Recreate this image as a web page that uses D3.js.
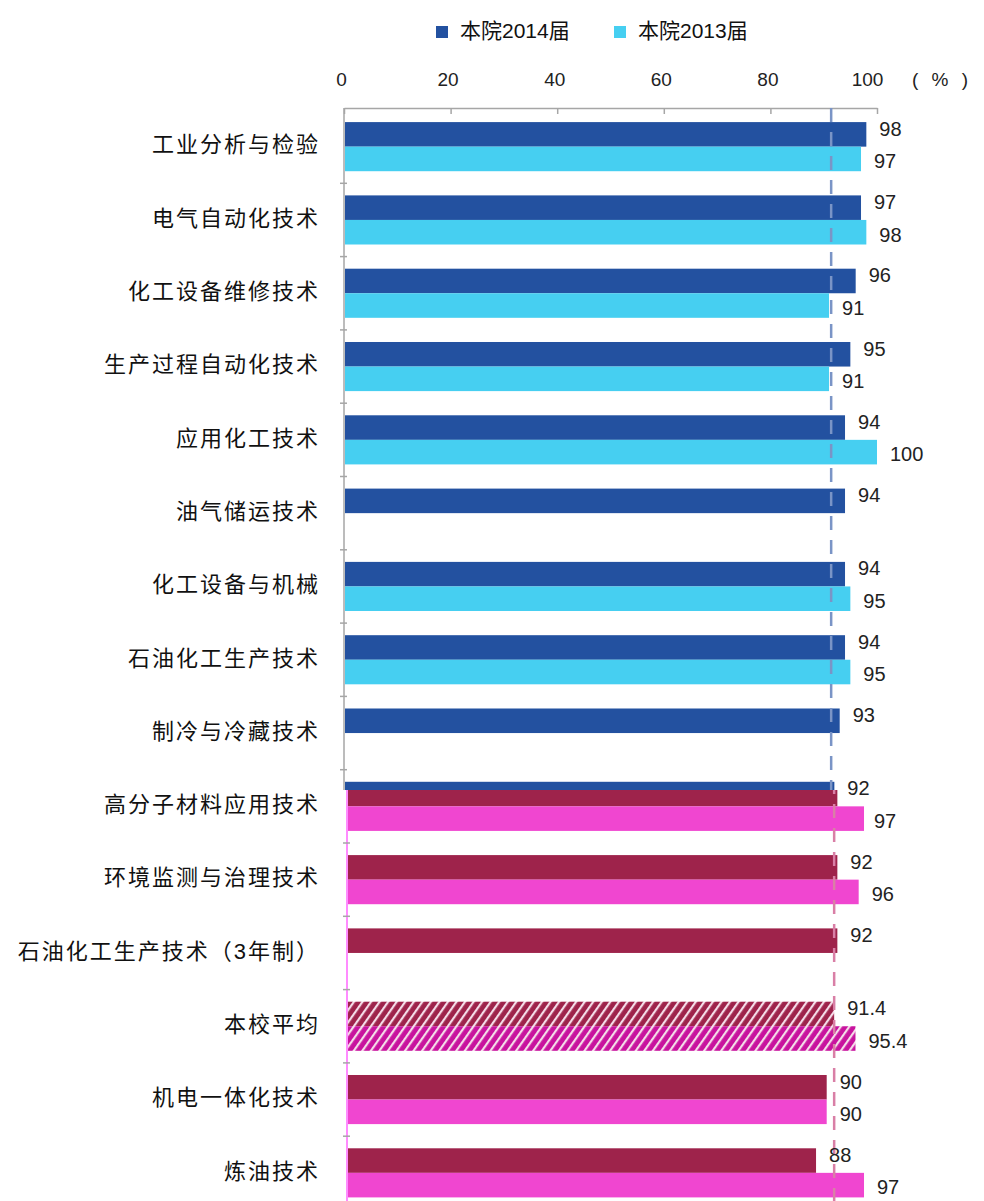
<!DOCTYPE html>
<html>
<head>
<meta charset="utf-8">
<script src="https://cdn.jsdelivr.net/npm/d3@7"></script>
<style>
  body { margin: 0; background: #fff; }
  text { font-family: "Liberation Sans", "Noto Sans CJK SC", sans-serif; }
</style>
</head>
<body>
<div id="chart"></div>
<script>
const categories = ["工业分析与检验", "电气自动化技术", "化工设备维修技术", "生产过程自动化技术",
  "应用化工技术", "油气储运技术", "化工设备与机械", "石油化工生产技术", "制冷与冷藏技术",
  "高分子材料应用技术", "环境监测与治理技术", "石油化工生产技术（3年制）", "本校平均",
  "机电一体化技术", "炼油技术"];
const values2014 = [98, 97, 96, 95, 94, 94, 94, 94, 93, 92, 92, 92, 91.4, 90, 88];
const values2013 = [97, 98, 91, 91, 100, null, 95, 95, null, 97, 96, null, 95.4, 90, 97];
const seriesNames = ["本院2014届", "本院2013届"];
const tickValues = [0, 20, 40, 60, 80, 100];
const averageValue = 91.4;
const averageName = "本校平均";

const width = 984, height = 1201;
const splitY = 790; // lower part of the picture uses a different palette

const svg = d3.select("#chart")
  .append("svg")
  .attr("width", width)
  .attr("height", height);

const x = d3.scaleLinear().domain([0, 100]).range([344, 877]);
const y = d3.scaleBand()
  .domain(categories)
  .range([110, 110 + 15 * 73.3])
  .paddingInner(0.33)
  .paddingOuter(0.165);
const ySub = d3.scaleBand().domain([0, 1]).range([0, y.bandwidth()]);

const rows = categories.map((c, i) => ({ cat: c, v: [values2014[i], values2013[i]] }));
const bars = [];
rows.forEach(r => r.v.forEach((v, s) => { if (v != null) bars.push({ cat: r.cat, s: s, v: v }); }));

const palettes = [
  { name: "top", c: ["#2351A0", "#46CFF1"], dash: "#7A94C6", axis: "#A6A6A6", clip: [0, splitY], dx: 0 },
  { name: "bot", c: ["#9E234B", "#F046D0"], dash: "#D97FA6", axis: "#FF66FF", clip: [splitY, height], dx: 3 }
];

const defs = svg.append("defs");
palettes.forEach(p => {
  defs.append("clipPath").attr("id", "clip-" + p.name)
    .append("rect").attr("x", -10).attr("y", p.clip[0]).attr("width", width + 20).attr("height", p.clip[1] - p.clip[0]);
  p.c.forEach((col, s) => {
    const pat = defs.append("pattern")
      .attr("id", `hatch-${p.name}-${s}`)
      .attr("patternUnits", "userSpaceOnUse")
      .attr("width", 7).attr("height", 7)
      .attr("patternTransform", "rotate(35)");
    pat.append("rect").attr("width", 7).attr("height", 7).attr("fill", s === 0 ? col : (p.name === "bot" ? "#C8139E" : col));
    pat.append("rect").attr("x", 0).attr("width", 2.2).attr("height", 7).attr("fill", "#f4dce8");
  });
});

// x axis on top
const xAxis = svg.append("g")
  .attr("transform", "translate(0,108)")
  .call(d3.axisTop(x).tickValues(tickValues).tickSizeInner(-6).tickSizeOuter(0));
xAxis.select(".domain").attr("stroke", "#A6A6A6").attr("stroke-width", 1.5);
xAxis.selectAll(".tick line").attr("stroke", "#A6A6A6").attr("stroke-width", 1.5);
xAxis.selectAll(".tick text")
  .attr("y", -22)
  .attr("dx", d => d === 100 ? -10 : -3)
  .style("font-size", "19px")
  .attr("fill", "#222");
svg.append("text")
  .attr("x", 912).attr("y", 86)
  .style("font-size", "19px")
  .style("letter-spacing", "4px")
  .attr("fill", "#222")
  .text("( % )");

// bars, average line and y axis, in two colour layers
palettes.forEach(p => {
  const g = svg.append("g").attr("clip-path", `url(#clip-${p.name})`)
    .append("g").attr("transform", `translate(${p.dx},0)`);

  g.append("line")
    .attr("x1", x(0)).attr("x2", x(0))
    .attr("y1", 108).attr("y2", height)
    .attr("stroke", p.axis).attr("stroke-width", 1.5);

  g.append("g")
    .selectAll("line")
    .data(categories.slice(1))
    .join("line")
    .attr("x1", x(0) - 4).attr("x2", x(0) + 3)
    .attr("y1", d => y(d) - y.step() * y.paddingInner() / 2)
    .attr("y2", d => y(d) - y.step() * y.paddingInner() / 2)
    .attr("stroke", "#A6A6A6").attr("stroke-width", 1.5);

  g.append("g")
    .selectAll("rect")
    .data(bars)
    .join("rect")
    .attr("x", x(0) + 1)
    .attr("y", d => y(d.cat) + ySub(d.s))
    .attr("width", d => x(d.v) - x(0) - 1)
    .attr("height", ySub.bandwidth())
    .attr("fill", d => d.cat === averageName ? `url(#hatch-${p.name}-${d.s})` : p.c[d.s]);

  g.append("line")
    .attr("x1", x(averageValue)).attr("x2", x(averageValue))
    .attr("y1", 108).attr("y2", height)
    .attr("stroke", p.dash).attr("stroke-width", 2.5)
    .attr("stroke-dasharray", "14,10");
});

// category labels
svg.append("g")
  .selectAll("text")
  .data(categories)
  .join("text")
  .attr("x", 320)
  .attr("y", d => y(d) + y.bandwidth() / 2)
  .attr("text-anchor", "end")
  .attr("dominant-baseline", "middle")
  .style("font-size", "22px")
  .style("letter-spacing", "2px")
  .attr("fill", "#111")
  .text(d => d);

// value labels
svg.append("g")
  .selectAll("text")
  .data(bars)
  .join("text")
  .attr("x", d => x(d.v) + 13 + (y(d.cat) > splitY ? 3 : 0))
  .attr("y", d => y(d.cat) + ySub(d.s) + ySub.bandwidth() / 2 + (d.s === 0 ? -4 : 4))
  .attr("dominant-baseline", "middle")
  .style("font-size", "20px")
  .attr("fill", "#222")
  .text(d => d.v);

// legend
const legend = svg.append("g").attr("transform", "translate(436,32)");
seriesNames.forEach((n, i) => {
  const lg = legend.append("g").attr("transform", `translate(${i * 178},0)`);
  lg.append("rect").attr("x", 0).attr("y", -6).attr("width", 12).attr("height", 12).attr("fill", palettes[0].c[i]);
  lg.append("text").attr("x", 24).attr("y", 0).attr("dominant-baseline", "middle")
    .style("font-size", "21px").attr("fill", "#111").text(n);
});
</script>
</body>
</html>
